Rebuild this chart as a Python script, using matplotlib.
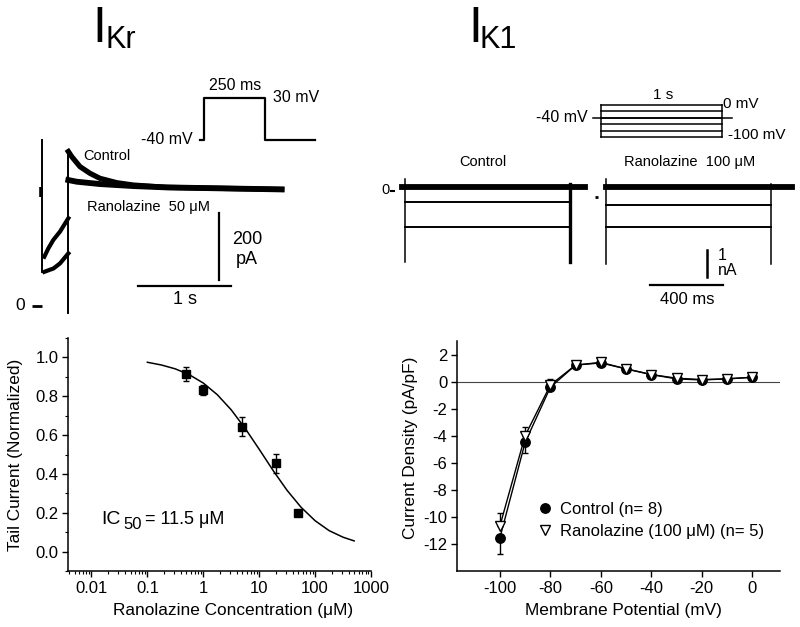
import matplotlib
matplotlib.use('Agg')
import matplotlib.pyplot as plt
from matplotlib.lines import Line2D
from matplotlib.ticker import MultipleLocator, LogLocator, NullFormatter, FixedLocator

# ---------------- data ----------------
# Bottom-left: concentration-response
conc = [0.5, 1, 5, 20, 50]
tail_norm = [0.915, 0.832, 0.643, 0.454, 0.200]
tail_err = [0.035, 0.025, 0.050, 0.050, 0.0]
fit_conc = [0.1, 0.178, 0.316, 0.562, 1, 1.78, 3.16, 5.62, 10, 17.8, 31.6, 56.2,
            100, 178, 316, 500]
fit_val = [0.975, 0.961, 0.941, 0.911, 0.868, 0.808, 0.730, 0.634, 0.527, 0.417,
           0.315, 0.228, 0.159, 0.108, 0.074, 0.055]
ic50_parts = ["IC", "50", "= 11.5 \u03bcM"]
x_ticks_conc = [0.01, 0.1, 1, 10, 100, 1000]
x_ticklabels_conc = ["0.01", "0.1", "1", "10", "100", "1000"]
y_ticks_tail = [0.0, 0.2, 0.4, 0.6, 0.8, 1.0]

# Bottom-right: I-V relation
vm = [-100, -90, -80, -70, -60, -50, -40, -30, -20, -10, 0]
ctrl_iv = [-11.55, -4.49, -0.42, 1.22, 1.38, 0.94, 0.52, 0.20, 0.12, 0.20, 0.32]
ctrl_err_lo = [1.2, 0.8, 0.0, 0, 0, 0, 0, 0, 0, 0, 0]
rano_iv = [-10.67, -4.00, -0.25, 1.22, 1.42, 0.94, 0.52, 0.25, 0.15, 0.20, 0.32]
rano_err_hi = [0.93, 0.67, 0.45, 0, 0, 0, 0, 0, 0, 0, 0]
vm_ticks = [-100, -80, -60, -40, -20, 0]
iv_ticks = [2, 0, -2, -4, -6, -8, -10, -12]

# Top-left: IKr current traces (time s, current pA)
hold_mark_t = [-0.01, -0.01]
hold_mark_i = [324, 356]
trans1_t = [0.0, 0.0]
trans1_i = [101, 496]
trans2_t = [0.28, 0.28]
trans2_i = [-21, 461]
ctrl_pulse_t = [0.0215, 0.065, 0.118, 0.19, 0.28]
ctrl_pulse_i = [147, 172, 197, 222, 262]
rano_pulse_t = [0.0215, 0.07, 0.12, 0.19, 0.28]
rano_pulse_i = [102, 107, 112, 127, 157]
ctrl_tail_t = [0.28, 0.316, 0.405, 0.513, 0.62, 0.80, 0.978, 1.338, 2.574]
ctrl_tail_i = [461, 446, 416, 396, 381, 368, 361, 354, 348]
rano_tail_t = [0.28, 0.37, 0.62, 0.978, 1.338, 2.574]
rano_tail_i = [376, 371, 364, 358, 354, 348]
# IKr protocol (ms, mV)
kr_prot_t = [-16, 0, 0, 250, 250, 455]
kr_prot_v = [-40, -40, 30, 30, -40, -40]

# Top-right: IK1 traces (time ms, current nA)
k1_ctrl_start, k1_ctrl_end = 0, 904
k1_rano_start, k1_rano_end = 1100, 2004
k1_top_ctrl_t = [-18, 986]
k1_top_rano_t = [1100, 2119]
k1_ctrl_levels = [0.0, -0.55, -1.49]
k1_rano_levels = [0.0, -0.67, -1.49]
k1_trans_low = -2.82
# IK1 protocol (ms, mV)
k1_steps = [0, -20, -40, -60, -80, -100]
k1_step_dur = 1000
k1_hold_t = [-66, 1083]

# ---------------- style ----------------
plt.rcParams['font.family'] = ['Liberation Sans', 'DejaVu Sans']
plt.rcParams['axes.unicode_minus'] = False

W, H = 800, 627
fig = plt.figure(figsize=(8, 6.27), dpi=100)


def px_axes(x0, y0, x1, y1):
    return fig.add_axes([x0 / W, 1 - y1 / H, (x1 - x0) / W, (y1 - y0) / H])


def ftext(x, y, s, **kw):
    fig.text(x / W, 1 - y / H, s, **kw)


title_fam = ['Liberation Sans Narrow', 'Liberation Sans']
ftext(92, 42, "I", fontsize=36, va='baseline', family=title_fam)
ftext(106, 48, "Kr", fontsize=22, va='baseline', family=title_fam)
ftext(468, 42, "I", fontsize=36, va='baseline', family=title_fam)
ftext(480, 48, "K1", fontsize=22, va='baseline', family=title_fam)

TICK_FS = 12
LAB_FS = 12.4

# ---------------- bottom-left ----------------
ax1 = px_axes(68, 338, 371, 571)
ax1.plot(fit_conc, fit_val, color='black', lw=1.1, zorder=2)
ax1.errorbar(conc, tail_norm, yerr=tail_err, fmt='s', color='black', ms=5.5,
             capsize=2, elinewidth=1, capthick=1, zorder=3)
ax1.set_xscale('log')
ax1.set_xlim(0.0038, 1000)
ax1.set_ylim(-0.1, 1.1)
ax1.xaxis.set_major_locator(FixedLocator(x_ticks_conc))
ax1.set_xticklabels(x_ticklabels_conc)
ax1.xaxis.set_minor_locator(LogLocator(base=10, subs=range(2, 10), numticks=20))
ax1.xaxis.set_minor_formatter(NullFormatter())
ax1.set_yticks(y_ticks_tail)
ax1.set_yticklabels([f"{v:.1f}" for v in y_ticks_tail])
ax1.yaxis.set_minor_locator(MultipleLocator(0.1))
for s in ['top', 'right']:
    ax1.spines[s].set_visible(False)
for s in ['left', 'bottom']:
    ax1.spines[s].set_linewidth(1.1)
ax1.tick_params(which='major', direction='out', length=4, width=1, labelsize=TICK_FS, pad=3)
ax1.tick_params(which='minor', direction='out', length=2, width=0.8)
ax1.set_xlabel("Ranolazine Concentration (\u03bcM)", fontsize=LAB_FS)
ax1.xaxis.set_label_coords((233 - 68) / 303, -(610 - 571) / 233, transform=ax1.transAxes)
ax1.xaxis.label.set_va('center')
ax1.set_ylabel("Tail Current (Normalized)", fontsize=LAB_FS)
ax1.yaxis.set_label_coords(-(68 - 16) / 303, 0.5, transform=ax1.transAxes)
ax1.yaxis.label.set_va('center')
ax1.text(0.0151, 0.143, ic50_parts[0], fontsize=14, va='baseline', ha='left')
ax1.text(0.0365, 0.117, ic50_parts[1], fontsize=12, va='baseline', ha='left')
ax1.text(0.0906, 0.143, ic50_parts[2], fontsize=13, va='baseline', ha='left')

# ---------------- bottom-right ----------------
ax2 = px_axes(457, 341, 780, 571)
ax2.axhline(0, color='#444444', lw=0.8, zorder=1)
ax2.plot(vm, ctrl_iv, color='black', lw=1, zorder=2)
ax2.plot(vm, rano_iv, color='black', lw=1, zorder=2)
ax2.errorbar(vm, ctrl_iv, yerr=[ctrl_err_lo, [0] * len(vm)], fmt='none', ecolor='black',
             elinewidth=1, capsize=2.5, capthick=1, zorder=2)
ax2.errorbar(vm, rano_iv, yerr=[[0] * len(vm), rano_err_hi], fmt='none', ecolor='black',
             elinewidth=1, capsize=2.5, capthick=1, zorder=2)
ax2.plot(vm, ctrl_iv, 'o', color='black', ms=6.8, zorder=3)
ax2.plot(vm, rano_iv, 'v', mfc='white', mec='black', mew=1, ms=7.5, zorder=4)
ax2.set_xlim(-117, 11)
ax2.set_ylim(-14, 3)
ax2.set_xticks(vm_ticks)
ax2.set_yticks(iv_ticks)
for s in ['top', 'right']:
    ax2.spines[s].set_visible(False)
for s in ['left', 'bottom']:
    ax2.spines[s].set_linewidth(1.1)
ax2.tick_params(which='major', direction='out', length=4, width=1, labelsize=TICK_FS, pad=3)
ax2.set_xlabel("Membrane Potential (mV)", fontsize=LAB_FS)
ax2.xaxis.set_label_coords((623 - 457) / 323, -(610 - 571) / 230, transform=ax2.transAxes)
ax2.xaxis.label.set_va('center')
ax2.set_ylabel("Current Density (pA/pF)", fontsize=LAB_FS)
ax2.yaxis.set_label_coords(-(457 - 411) / 323, (571 - 448) / 230, transform=ax2.transAxes)
ax2.yaxis.label.set_va('center')
handles = [Line2D([], [], marker='o', ls='none', color='black', ms=6.8),
           Line2D([], [], marker='v', ls='none', mfc='white', mec='black', ms=7.5)]
ax2.legend(handles, ["Control (n= 8)", "Ranolazine (100 \u03bcM) (n= 5)"],
           loc='upper left', bbox_to_anchor=(0.22, 0.33), frameon=False, fontsize=12,
           handletextpad=0.3, handlelength=1.2, labelspacing=0.45, borderaxespad=0)

# ---------------- top-left traces ----------------
ax3 = px_axes(0, 80, 330, 320)
ax3.set_xlim(-0.455, 3.094)
ax3.set_ylim(-41.8, 674.6)
ax3.axis('off')
ax3.plot(hold_mark_t, hold_mark_i, color='black', lw=2.6, solid_capstyle='butt')
ax3.plot(trans1_t, trans1_i, color='black', lw=1.4)
ax3.plot(trans2_t, trans2_i, color='black', lw=1.4)
ax3.plot(ctrl_pulse_t, ctrl_pulse_i, color='black', lw=3)
ax3.plot(rano_pulse_t, rano_pulse_i, color='black', lw=3)
ax3.plot(ctrl_tail_t, ctrl_tail_i, color='black', lw=3.8)
ax3.plot(rano_tail_t, rano_tail_i, color='black', lw=4.2)
# zero mark
ax3.plot([-0.114, 0.0], [0, 0], color='black', lw=2, solid_capstyle='butt')
ax3.text(-0.19, 0, "0", fontsize=12.5, ha='right', va='center')
# scale bars
ax3.plot([1.90, 1.90], [77.6, 277.6], color='black', lw=1.6)
ax3.plot([1.03, 2.03], [59.7, 59.7], color='black', lw=1.6)
ax3.text(2.20, 168, "200\npA", fontsize=13, ha='center', va='center', linespacing=1.2)
ax3.text(1.53, 45, "1 s", fontsize=13, ha='center', va='top')
ax3.text(0.44, 448, "Control", fontsize=10.5, ha='left', va='center')
ax3.text(0.48, 296, "Ranolazine  50 \u03bcM", fontsize=10.5, ha='left', va='center')

# IKr protocol
ax4 = px_axes(130, 80, 330, 150)
ax4.set_xlim(-303, 516)
ax4.set_ylim(-56.7, 60)
ax4.axis('off')
ax4.plot(kr_prot_t, kr_prot_v, color='black', lw=1.6)
ax4.text(-45, -40, "-40 mV", fontsize=11.5, ha='right', va='center')
ax4.text(127, 50, "250 ms", fontsize=11.5, ha='center', va='center')
ax4.text(283, 30, "30 mV", fontsize=11.5, ha='left', va='center')

# ---------------- top-right traces ----------------
ax5 = px_axes(380, 150, 800, 320)
ax5.set_xlim(-137, 2164)
ax5.set_ylim(-4.98, 1.386)
ax5.axis('off')
ax5.plot(k1_top_ctrl_t, [k1_ctrl_levels[0]] * 2, color='black', lw=4.2)
ax5.plot(k1_top_rano_t, [k1_rano_levels[0]] * 2, color='black', lw=4.2)
for lv in k1_ctrl_levels[1:]:
    ax5.plot([k1_ctrl_start, k1_ctrl_end], [lv, lv], color='black', lw=1.4)
for lv in k1_rano_levels[1:]:
    ax5.plot([k1_rano_start, k1_rano_end], [lv, lv], color='black', lw=1.4)
ax5.plot([k1_ctrl_start] * 2, [0.3, k1_trans_low], color='black', lw=1.1)
ax5.plot([k1_ctrl_end] * 2, [0.1, k1_trans_low], color='black', lw=2.4)
ax5.plot([k1_rano_start] * 2, [0.3, k1_trans_low - 0.05], color='black', lw=1.1)
ax5.plot([k1_rano_end] * 2, [0.1, k1_trans_low - 0.05], color='black', lw=1.1)
ax5.plot([1040, 1058], [-0.36, -0.36], color='black', lw=2, solid_capstyle='butt')
ax5.plot([-80, -55], [-0.14, -0.14], color='black', lw=1.5, solid_capstyle='butt')
ax5.text(-85, -0.12, "0", fontsize=10.5, ha='right', va='center')
# scale bars
ax5.plot([1655, 1655], [-2.36, -3.36], color='black', lw=1.8)
ax5.plot([1342, 1742], [-3.67, -3.67], color='black', lw=1.6)
ax5.text(1712, -2.85, "1\nnA", fontsize=11.5, ha='left', va='center', linespacing=1.0)
ax5.text(1545, -3.95, "400 ms", fontsize=12, ha='center', va='top')
ax5.text(427, 0.94, "Control", fontsize=10.5, ha='center', va='center')
ax5.text(1562, 0.94, "Ranolazine  100 \u03bcM", fontsize=10.5, ha='center', va='center')

# IK1 protocol
ax6 = px_axes(560, 80, 800, 150)
ax6.set_xlim(-339, 1645)
ax6.set_ylim(-140.6, 78)
ax6.axis('off')
for v in k1_steps:
    ax6.plot([0, k1_step_dur], [v, v], color='black', lw=1.1)
ax6.plot([0, 0], [k1_steps[-1], k1_steps[0]], color='black', lw=1.1)
ax6.plot([k1_step_dur] * 2, [k1_steps[-1], k1_steps[0]], color='black', lw=1.1)
ax6.plot(k1_hold_t, [-40, -40], color='black', lw=1.1)
ax6.text(512, 31, "1 s", fontsize=11, ha='center', va='center')
ax6.text(-107, -40, "-40 mV", fontsize=11.5, ha='right', va='center')
ax6.text(1008, 3, "0 mV", fontsize=11, ha='left', va='center')
ax6.text(1050, -94, "-100 mV", fontsize=11, ha='left', va='center')

fig.savefig('out.png', dpi=100)
